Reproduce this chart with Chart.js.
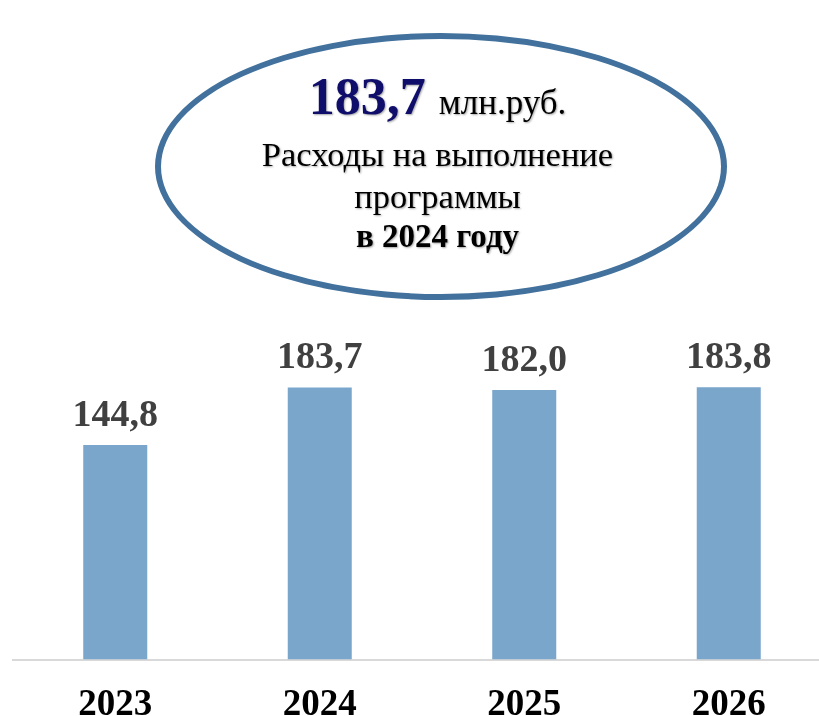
<!DOCTYPE html>
<html>
<head>
<meta charset="utf-8">
<script src="https://cdn.jsdelivr.net/npm/chart.js@4/dist/chart.umd.min.js"></script>
<style>
  html, body { margin: 0; padding: 0; background: #fff; overflow: hidden; }
  #wrap { position: relative; width: 819px; height: 716px; overflow: hidden; }
  #wrap canvas { position: absolute; left: 0; top: 0; }
  .oval {
    position: absolute; left: 155px; top: 33px; width: 572px; height: 267px;
    box-sizing: border-box; border: 6px solid #41719c; border-radius: 50%;
  }
  .ln {
    position: absolute; left: 0; width: 875px; text-align: center;
    font-family: "Liberation Serif", "Times New Roman", serif; color: #000;
    line-height: 1; white-space: nowrap;
    text-shadow: 1px 1px 2px rgba(0,0,0,0.35);
  }
  .big { font-size: 52px; font-weight: bold; color: #0f0f6b; }
  .unit { font-size: 35px; font-weight: normal; color: #000; }
</style>
</head>
<body>
<div id="wrap">
  <canvas id="chart" width="840" height="752"></canvas>
  <div class="oval"></div>
  <div class="ln" style="top:71px; font-size:52px;"><span class="big">183,7</span> <span class="unit">млн.руб.</span></div>
  <div class="ln" style="top:137px; font-size:34.5px;">Расходы на выполнение</div>
  <div class="ln" style="top:179px; font-size:34.5px;">программы</div>
  <div class="ln" style="top:220px; font-size:33px; font-weight:bold;">в 2024 году</div>
</div>
<script>
// Расходы на выполнение программы, млн.руб.
const years = ['2023', '2024', '2025', '2026'];
const expenses = [144.8, 183.7, 182.0, 183.8];

const barColor = '#7aa6cc';
const serif = '"Liberation Serif", "Times New Roman", serif';

// подписи значений над столбцами
const valueLabels = {
    id: 'valueLabels',
    afterDatasetsDraw(chart) {
        const ctx = chart.ctx;
        const meta = chart.getDatasetMeta(0);
        ctx.save();
        ctx.font = 'bold 38px ' + serif;
        ctx.fillStyle = '#404040';
        ctx.textAlign = 'center';
        ctx.textBaseline = 'alphabetic';
        meta.data.forEach((bar, i) => {
            const txt = expenses[i].toFixed(1).replace('.', ',');
            ctx.fillText(txt, bar.x, bar.y - 19);
        });
        ctx.restore();
    }
};

new Chart(document.getElementById('chart'), {
    type: 'bar',
    data: {
        labels: years,
        datasets: [{
            data: expenses,
            backgroundColor: barColor,
            barPercentage: 0.313,
            categoryPercentage: 1.0
        }]
    },
    options: {
        responsive: false,
        animation: false,
        layout: { padding: { left: 13, right: 9, top: 304, bottom: 0 } },
        plugins: {
            legend: { display: false },
            tooltip: { enabled: false }
        },
        scales: {
            x: {
                grid: { display: false, drawTicks: false },
                border: { display: true, color: '#d9d9d9', width: 2 },
                ticks: {
                    color: '#000',
                    padding: 24,
                    font: { family: serif, size: 37, weight: 'bold' }
                }
            },
            y: {
                display: false,
                min: 0,
                max: 240
            }
        }
    },
    plugins: [valueLabels]
});
</script>
</body>
</html>
